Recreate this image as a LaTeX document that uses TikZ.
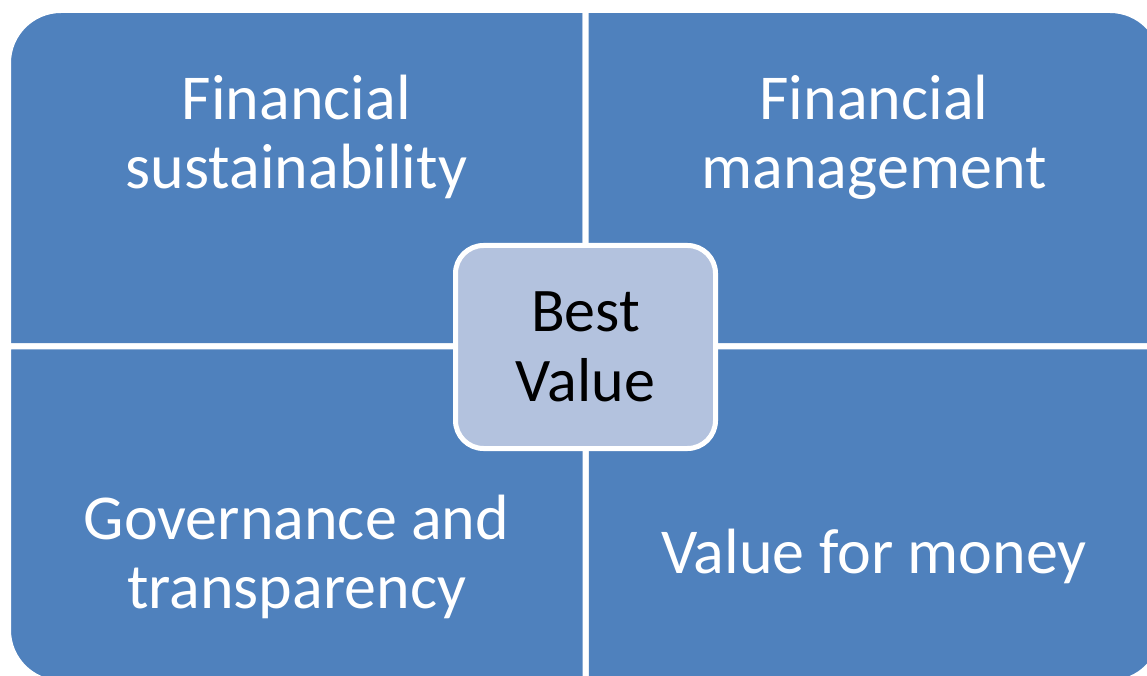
\documentclass[tikz,border=0pt]{standalone}
\usepackage{fontspec}
\setmainfont{Carlito}
\usetikzlibrary{positioning}
\definecolor{quadblue}{RGB}{79,129,189}
\definecolor{coreblue}{RGB}{179,194,222}

\begin{document}
\begin{tikzpicture}[x=1pt,y=1pt,
  quad/.style={fill=quadblue,draw=white,line width=6pt,line join=round},
  qtext/.style={text=white,align=center,anchor=base,inner sep=0pt,font=\fontsize{64}{69}\selectfont},
  core/.style={draw=white,fill=coreblue,line width=5pt,rounded corners=28pt,minimum width=260pt,minimum height=203pt,align=center,inner sep=0pt,font=\fontsize{62}{70}\selectfont}]
\useasboundingbox (0,0) rectangle (1147,675);
\coordinate (M) at (585.5,328.5);
\path[quad] (M) -- (8,328.5) -- (8,612) arc[start angle=180,end angle=90,radius=53] -- (585.5,665) -- cycle;
\path[quad] (M) -- (585.5,665) -- (1110,665) arc[start angle=90,end angle=0,radius=53] -- (1163,328.5) -- cycle;
\path[quad] (M) -- (1163,328.5) -- (1163,45) arc[start angle=0,end angle=-90,radius=53] -- (585.5,-8) -- cycle;
\path[quad] (M) -- (585.5,-8) -- (61,-8) arc[start angle=270,end angle=180,radius=53] -- (8,328.5) -- cycle;
\node[qtext] (FS) at (296.5,486) {Financial\\sustainability};
\node[qtext] (FM) at (874,486) {Financial\\management};
\node[qtext] (GT) at (296.5,67) {Governance and\\transparency};
\node[qtext] (VM) at (874,102) {Value for money};
\node[core] (BV) at (585.5,328) {Best\\Value};
\end{tikzpicture}
\end{document}
